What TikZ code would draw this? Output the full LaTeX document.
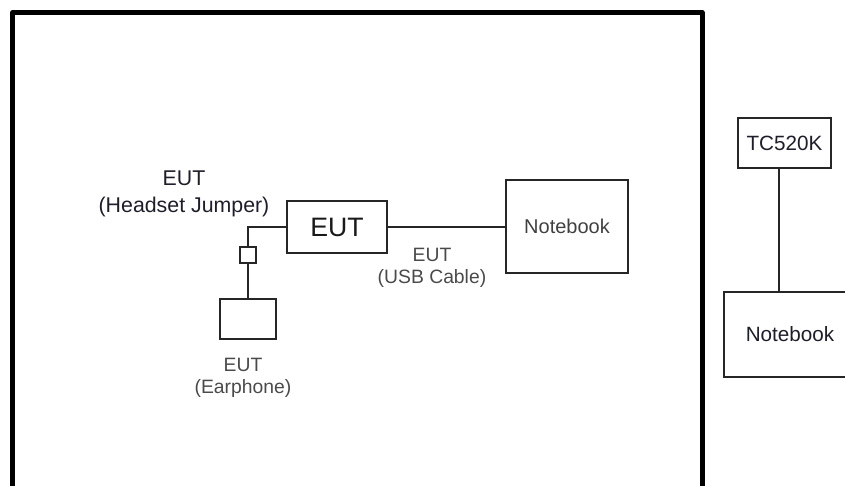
\documentclass[tikz,border=0pt]{standalone}
\usepackage{fontspec}
\setmainfont{Liberation Sans}
\definecolor{labgray}{HTML}{4A4A4A}
\definecolor{darktxt}{HTML}{1E1E2A}
\tikzset{
  thickbox/.style={draw=black!85, line width=2pt, fill=white, inner sep=0pt},
  thinbox/.style={draw=black!85, line width=1.25pt, fill=white, inner sep=0pt},
  cable/.style={draw=black!85, line width=2pt},
  thincable/.style={draw=black!85, line width=1.25pt},
  lbl/.style={inner sep=0pt, text=labgray, font=\fontsize{14.5}{16}\selectfont},
  hlbl/.style={inner sep=0pt, text=darktxt, font=\fontsize{16}{18}\selectfont},
}
\begin{document}
\begin{tikzpicture}[x=0.75pt,y=-0.75pt]
\useasboundingbox (0,0) rectangle (845,485);
\clip (0,0) rectangle (845,485);
% outer frame (open at bottom)
\coordinate (fbl) at (12.5,495);
\coordinate (ftl) at (12.5,12.5);
\coordinate (ftr) at (702,12.5);
\coordinate (fbr) at (702,495);
\draw[line width=3.75pt, line join=round] (fbl) -- (ftl) -- (ftr) -- (fbr);
% inner devices
\node[thickbox, minimum width=100*0.75pt, minimum height=52*0.75pt,
      font=\fontsize{20}{22}\selectfont, text=black!90] (eut) at (337,227) {EUT};
\node[thickbox, minimum width=122*0.75pt, minimum height=93*0.75pt,
      font=\fontsize{15}{17}\selectfont, text=black!75] (nb1) at (567,226.5) {Notebook};
\node[thickbox, minimum width=16*0.75pt, minimum height=16*0.75pt] (sq) at (248,255) {};
\node[thickbox, minimum width=56*0.75pt, minimum height=40*0.75pt] (ear) at (248,319) {};
\draw[cable] (eut.east) -- (nb1.west |- eut.east);
\draw[cable] (eut.west) -| (sq.north);
\draw[cable] (sq.south) -- (ear.north);
% labels
\node[hlbl] (hj1) at (184,178) {EUT};
\node[hlbl] (hj2) at (184,207) {(Headset Jumper)};
\node[lbl] (usb1) at (432,255) {EUT};
\node[lbl] (usb2) at (432,278) {(USB Cable)};
\node[lbl] (ep1) at (243,365) {EUT};
\node[lbl] (ep2) at (243,388) {(Earphone)};
% right side
\node[thinbox, minimum width=93*0.75pt, minimum height=50*0.75pt,
      font=\fontsize{15.5}{17}\selectfont, text=darktxt] (tc) at (784.5,143) {TC520K};
\node[thinbox, minimum width=132*0.75pt, minimum height=85*0.75pt,
      font=\fontsize{15.5}{17}\selectfont, text=darktxt] (nb2) at (790,334.5) {Notebook};
\coordinate (vx) at (779,0);
\draw[thincable] (tc.south -| vx) -- (nb2.north -| vx);
\end{tikzpicture}
\end{document}
